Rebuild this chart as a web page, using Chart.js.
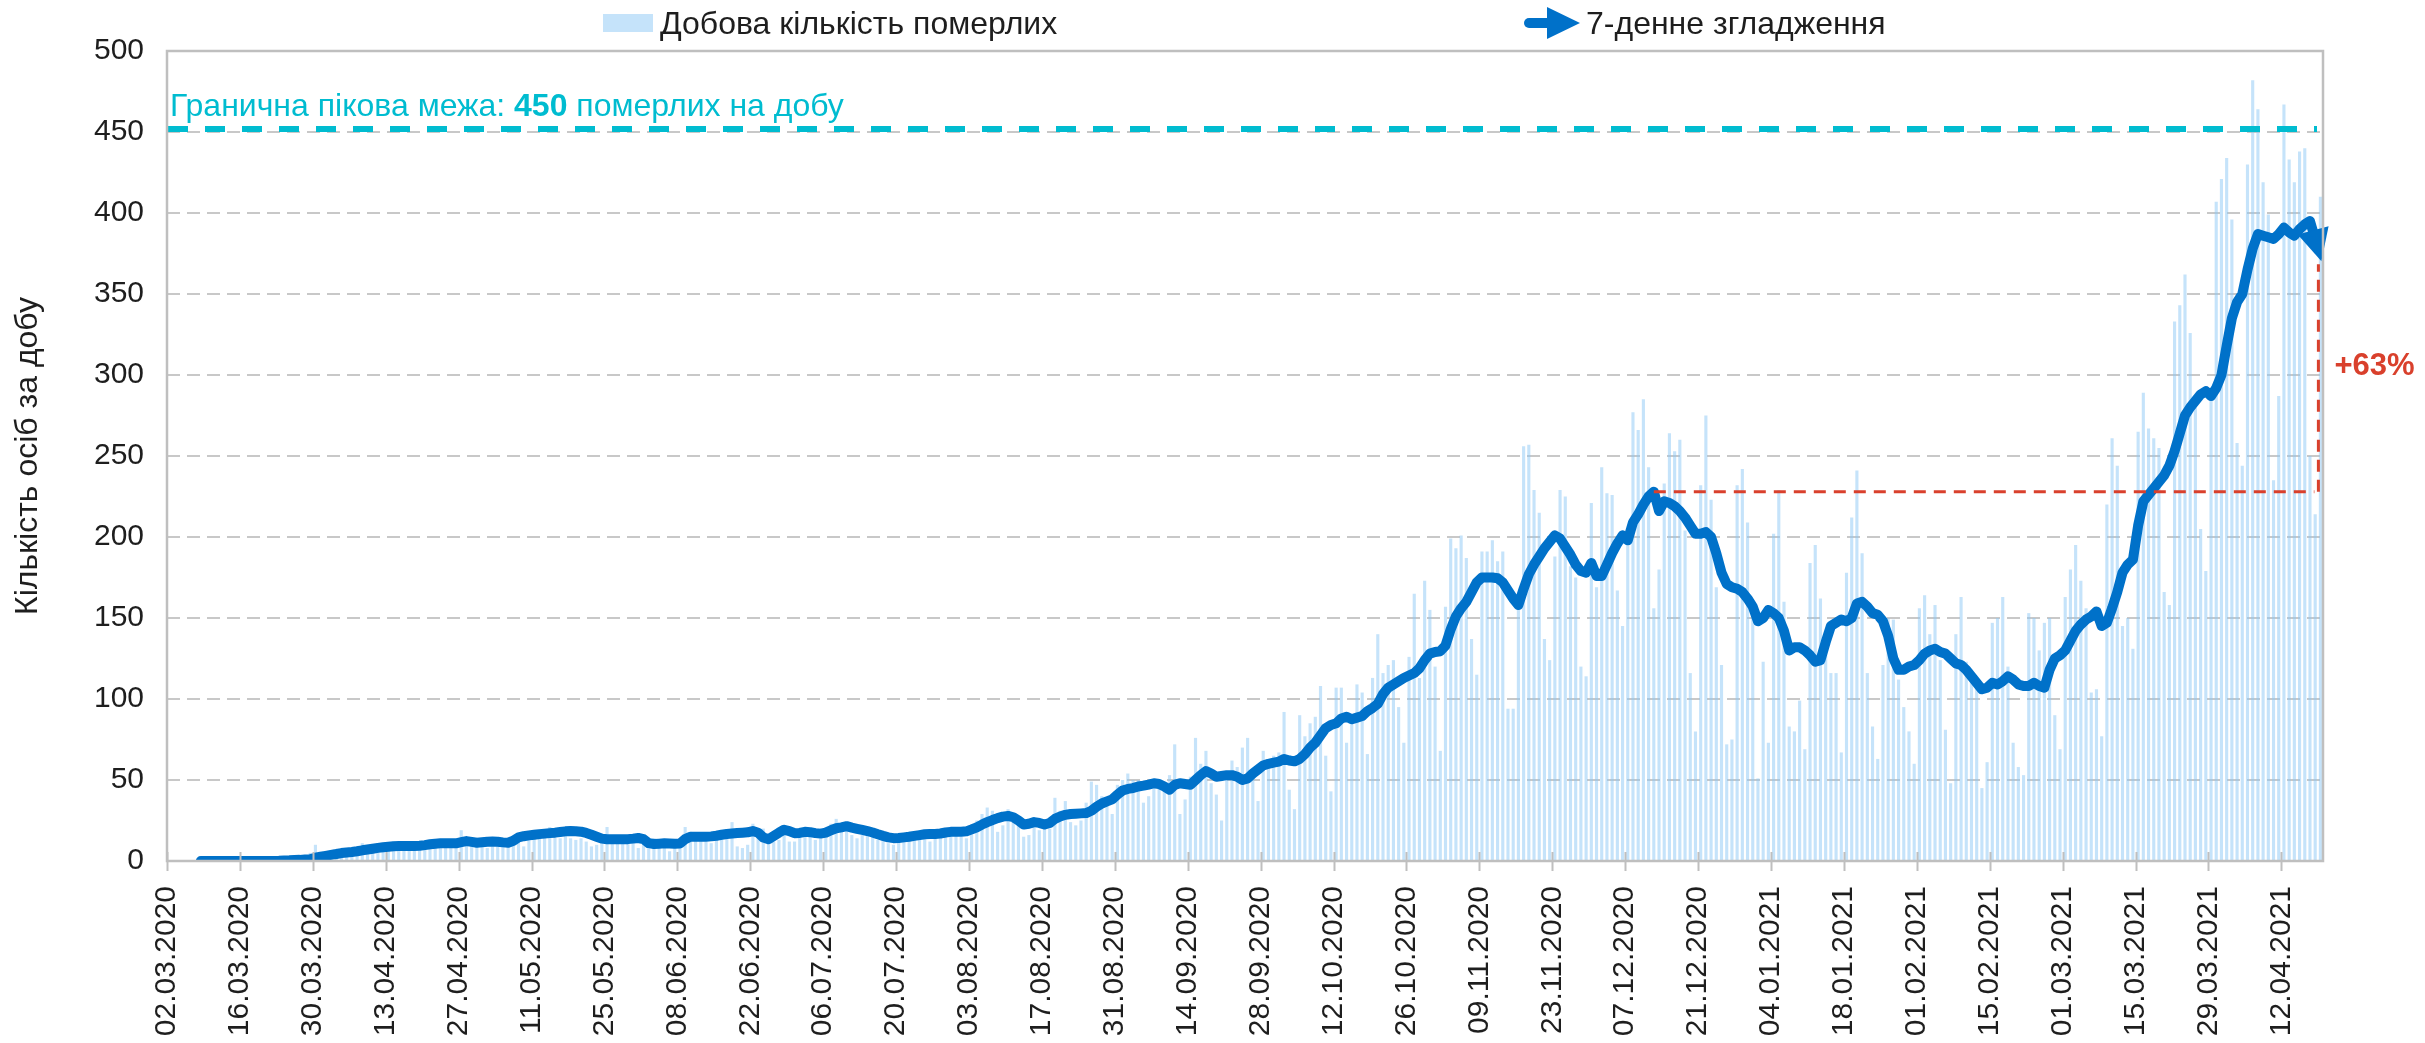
<!DOCTYPE html>
<html lang="uk">
<head>
<meta charset="utf-8">
<title>Добова кількість померлих</title>
<script src="https://cdn.jsdelivr.net/npm/chart.js@4.4.1/dist/chart.umd.min.js"></script>
<style>
html,body{margin:0;padding:0;background:#fff;overflow:hidden}
#wrap{position:relative;width:2425px;height:1043px}
canvas{display:block}
</style>
</head>
<body>
<div id="wrap"><canvas id="chart" width="2425" height="1043"></canvas></div>
<script>
// ---------------- DATA ----------------
const SERIES_BAR_LABEL = 'Добова кількість померлих';
const SERIES_LINE_LABEL = '7-денне згладження';
const Y_TITLE = 'Кількість осіб за добу';

// daily deaths, one value per day starting 02.03.2020 (index 0)
const DAILY_DEATHS = [
  0,0,0,0,0,0,0,
  0,0,0,0,1,0,0,
  0,1,0,0,0,1,0,
  1,2,3,1,2,3,5,
  10,3,5,4,6,5,5,
  7,5,11,8,10,7,9,
  9,12,11,9,8,7,9,
  11,13,12,13,9,8,10,
  19,14,10,12,11,8,9,
  10,13,11,13,15,9,17,
  17,18,19,21,20,14,16,
  14,13,14,12,9,10,11,
  21,14,13,12,15,11,8,
  12,11,14,13,11,6,8,
  12,21,18,16,14,12,11,
  16,17,19,24,9,8,10,
  23,19,20,15,12,13,21,
  12,12,20,19,18,13,14,
  20,23,26,22,19,16,14,
  16,18,15,13,14,11,10,
  15,16,18,17,17,14,12,
  16,18,19,21,19,15,14,
  20,25,29,33,31,18,22,
  32,28,24,15,16,25,19,
  20,20,39,31,37,24,22,
  25,36,49,47,40,35,29,
  47,50,54,50,50,36,40,
  50,46,48,53,72,29,38,
  52,76,60,68,48,41,25,
  55,62,58,70,76,55,37,
  68,62,65,67,92,44,32,
  90,77,85,89,108,65,43,
  107,107,73,90,109,104,66,
  113,140,116,121,124,95,73,
  126,165,113,173,155,120,68,
  157,199,193,201,187,137,115,
  191,191,198,185,191,94,94,
  157,256,257,229,215,137,124,
  188,229,225,182,175,120,114,
  221,169,243,227,226,167,145,
  200,277,266,285,243,156,180,
  233,264,253,260,204,116,80,
  232,275,223,169,121,72,75,
  232,242,209,150,51,123,73,
  202,229,160,83,80,99,69,
  184,195,162,140,116,116,67,
  178,212,241,190,116,83,63,
  121,150,149,112,95,80,60,
  156,164,140,158,124,81,48,
  140,163,123,118,109,45,61,
  147,150,163,120,73,58,53,
  153,150,130,147,150,90,69,
  163,180,195,173,156,104,106,
  77,220,261,244,145,150,131,
  265,289,267,261,255,166,158,
  333,343,362,326,280,205,179,
  290,407,421,434,396,258,244,
  430,482,464,419,399,235,287,
  467,433,419,438,440,250,214,
  410
];

// 7-day smoothing, first value belongs to day index SMOOTH_START
const SMOOTH_START = 6;
const SMOOTH_7D = [
  0,0,0,0,0,0,0,0,0,0,0,0,0,0,0,
  0.1,0.3,0.4,0.6,0.7,0.9,1.0,
  2,2.6,3.2,3.8,4.3,4.9,5.3,
  5.6,6,6.6,7.1,7.6,8.1,8.5,
  8.8,9.1,9.2,9.3,9.2,9.3,9.4,
  9.8,10.3,10.7,10.9,10.9,11,10.9,
  11.6,12.3,11.8,11.3,11.6,11.9,12,
  11.9,11.5,11.3,12.5,14.6,15.3,15.8,
  16.2,16.6,16.9,17.2,17.5,17.9,18.3,
  18.5,18.4,18.1,17.3,16.2,15,13.8,
  13.4,13.4,13.4,13.4,13.5,13.8,14.2,
  13.5,11,10.5,10.7,10.9,10.8,10.6,
  10.8,13.5,15,15,15,15,15.2,
  15.6,16.2,16.7,17,17.3,17.5,17.7,
  18.5,17.5,14.5,13.5,15.5,17.5,19.3,
  18.5,17.2,17.3,18,17.8,17.2,16.9,
  17.5,19,20.2,20.8,21.5,20.6,19.9,
  19.2,18.5,17.6,16.5,15.5,14.6,14.1,
  14.2,14.6,15,15.5,16,16.5,16.7,
  16.7,17,17.6,18,18.1,18.1,18.3,
  19.5,20.8,22.5,24,25.3,26.5,27.4,
  27.8,27,25,22.5,23,24,23.5,
  22.5,23.5,26,27.5,28.5,29,29.2,
  29.4,29.6,31,33.5,35.5,36.8,38,
  41,43.5,44.5,45,46,46.5,47.2,
  48,47.5,46,44,47,48,47.5,
  47,50,53,55.5,54,52,52.5,
  53,53,52,50,51,54,56.5,
  59,60,60.7,61.3,63,62,61.5,
  63,66,70,73,77.5,82,84,
  85,88,89,87.5,88.5,89.5,92.5,
  94.5,97,103,107,109,111,113,
  114.5,116,119,124,128,129,129.5,
  133,143,151,156,160,166,172,
  175,175,175,174.5,172,167,162,
  158,168,177,183,188,193,197,
  201,199,194,189,183,179,178,
  184,176,176,183,190,196,201,
  198,209,214,220,225,228,216,
  222,221,219,216,212,207,202,
  202,203,200,190,178,171,169,
  168,166,162,157,148,150,155,
  153,150,142,130,132,132,130,
  127,123,124,135,145,147,149,
  148,150,159,160,157,153,152,
  148,139,125,118,118,120,121,
  124,128,130,131,129,128,125,
  122,121,118,114,110,106,107,
  110,109,111,114,112,109,108,
  108,110,108,107,118,125,127,
  130,136,142,146,149,151,154,
  145,147,156,166,178,183,186,
  207,222,226,230,234,238,244,
  253,264,275,280,284,288,290,
  287,292,300,318,335,345,350,
  365,378,387,386,385,384,387,
  391,388,386,390,393,395,384,
  372
];

const TICK_STEP_DAYS = 14;
const TICK_LABELS = [
  '02.03.2020','16.03.2020','30.03.2020','13.04.2020','27.04.2020','11.05.2020',
  '25.05.2020','08.06.2020','22.06.2020','06.07.2020','20.07.2020','03.08.2020',
  '17.08.2020','31.08.2020','14.09.2020','28.09.2020','12.10.2020','26.10.2020',
  '09.11.2020','23.11.2020','07.12.2020','21.12.2020','04.01.2021','18.01.2021',
  '01.02.2021','15.02.2021','01.03.2021','15.03.2021','29.03.2021','12.04.2021'
];
const AXIS_DAYS = 414;            // 02.03.2020 .. 20.04.2021
const LIMIT_VALUE = 450;
const LIMIT_TEXT = ['Гранична пікова межа: ', String(LIMIT_VALUE), ' померлих на добу'];
const COMPARE_DAY = 285;          // 12.12.2020 – peak of the autumn wave
const Y_MAX = 500, Y_STEP = 50;

// ---------------- STYLE ----------------
const FONT = "'Liberation Sans', Arial, Helvetica, sans-serif";
const C_TEXT = '#1e1e1e';
const C_BAR = 'rgba(140,200,245,0.5)';
const C_BAR_LEGEND = '#c5e3fa';
const C_LINE = '#0071c9';
const C_LIMIT = '#00bcd0';
const C_RED = '#d9402c';
const C_FRAME = '#bfbfbf';
const C_GRID = '#c8c8c8';

const tickDays = TICK_LABELS.map((_, i) => i * TICK_STEP_DAYS);
const barPoints = DAILY_DEATHS.map((v, i) => ({x: i + 0.5, y: v}));
const linePoints = SMOOTH_7D.map((v, i) => ({x: SMOOTH_START + i + 0.5, y: v}));

const decor = {
  id: 'decor',
  afterUpdate(chart) { chart.$tip = null; },
  beforeDatasetsDraw(chart) {
    if (chart.$tip) return;
    const pts = chart.getDatasetMeta(0).data;
    const last = pts[pts.length - 1], prev = pts[pts.length - 2];
    const dx = last.x - prev.x, dy = last.y - prev.y, len = Math.hypot(dx, dy);
    chart.$tip = {x: last.x + 1, y: last.y + 3, ux: dx / len, uy: dy / len};
    const back = Math.min(len, 14);
    last.x = chart.$tip.x - chart.$tip.ux * back;
    last.y = chart.$tip.y - chart.$tip.uy * back;
  },
  afterDatasetsDraw(chart) {
    const {ctx, chartArea: a, scales: {x, y}} = chart;
    const tip = chart.$tip;

    // limit line
    ctx.save();
    const yl = y.getPixelForValue(LIMIT_VALUE) - 3;
    ctx.strokeStyle = C_LIMIT; ctx.lineWidth = 6; ctx.setLineDash([20, 17]);
    ctx.beginPath(); ctx.moveTo(a.left + 1, yl); ctx.lineTo(a.right - 6, yl); ctx.stroke();
    ctx.setLineDash([]);
    ctx.fillStyle = C_LIMIT; ctx.textBaseline = 'alphabetic'; ctx.textAlign = 'left';
    let tx = a.left + 3;
    const ty = yl - 13;
    ctx.font = '32px ' + FONT; ctx.fillText(LIMIT_TEXT[0], tx, ty); tx += ctx.measureText(LIMIT_TEXT[0]).width;
    ctx.font = 'bold 32px ' + FONT; ctx.fillText(LIMIT_TEXT[1], tx, ty); tx += ctx.measureText(LIMIT_TEXT[1]).width;
    ctx.font = '32px ' + FONT; ctx.fillText(LIMIT_TEXT[2], tx, ty);
    ctx.restore();

    // comparison with the December peak
    const refV = SMOOTH_7D[COMPARE_DAY - SMOOTH_START];
    const lastV = SMOOTH_7D[SMOOTH_7D.length - 1];
    const xr = x.getPixelForValue(COMPARE_DAY + 0.5);
    const yr = y.getPixelForValue(refV);
    const ye = y.getPixelForValue(lastV);
    const xe = tip.x - 3;
    ctx.save();
    ctx.strokeStyle = C_RED; ctx.lineWidth = 3; ctx.setLineDash([12, 8]);
    ctx.beginPath(); ctx.moveTo(xr, yr); ctx.lineTo(xe - 4, yr); ctx.stroke();
    ctx.beginPath(); ctx.moveTo(xe, yr); ctx.lineTo(xe, ye + 6); ctx.stroke();
    ctx.setLineDash([]);
    ctx.fillStyle = C_RED; ctx.font = 'bold 31px ' + FONT;
    ctx.textAlign = 'left'; ctx.textBaseline = 'alphabetic';
    ctx.fillText('+' + Math.round((lastV / refV - 1) * 100) + '%', xe + 16, (yr + ye) / 2);
    ctx.restore();

    // arrow head at the end of the smoothed line
    ctx.save();
    const L = 32, W = 16;
    const bx = tip.x - tip.ux * L, by = tip.y - tip.uy * L;
    ctx.fillStyle = C_LINE;
    ctx.beginPath();
    ctx.moveTo(tip.x, tip.y);
    ctx.lineTo(bx - tip.uy * W, by + tip.ux * W);
    ctx.lineTo(bx + tip.uy * W, by - tip.ux * W);
    ctx.closePath(); ctx.fill();
    ctx.restore();

    // frame
    ctx.save();
    ctx.strokeStyle = C_FRAME; ctx.lineWidth = 2.5;
    ctx.strokeRect(a.left, a.top, a.right - a.left, a.bottom - a.top);
    // cross tick marks on the date axis
    ctx.lineWidth = 2;
    tickDays.forEach(d => {
      const px = Math.round(x.getPixelForValue(d)) + 0.5;
      ctx.beginPath(); ctx.moveTo(px, a.bottom - 9); ctx.lineTo(px, a.bottom + 10); ctx.stroke();
    });
    ctx.restore();
  },
  afterDraw(chart) {
    const ctx = chart.ctx;
    ctx.save();
    ctx.fillStyle = C_BAR_LEGEND;
    ctx.fillRect(603, 14, 50, 18);
    ctx.fillStyle = C_TEXT; ctx.font = '32px ' + FONT;
    ctx.textAlign = 'left'; ctx.textBaseline = 'alphabetic';
    ctx.fillText(SERIES_BAR_LABEL, 660, 34);
    // line icon with arrow
    ctx.strokeStyle = C_LINE; ctx.lineWidth = 10; ctx.lineCap = 'round';
    ctx.beginPath(); ctx.moveTo(1529, 23); ctx.lineTo(1552, 23); ctx.stroke();
    ctx.fillStyle = C_LINE;
    ctx.beginPath(); ctx.moveTo(1547, 7); ctx.lineTo(1580, 23); ctx.lineTo(1547, 39); ctx.closePath(); ctx.fill();
    ctx.fillStyle = C_TEXT;
    ctx.fillText(SERIES_LINE_LABEL, 1586, 34);
    ctx.restore();
  }
};

Chart.defaults.font.family = FONT;
Chart.defaults.color = C_TEXT;

new Chart(document.getElementById('chart'), {
  type: 'bar',
  data: {
    datasets: [
      {
        type: 'line', label: SERIES_LINE_LABEL, data: linePoints, order: 0,
        borderColor: C_LINE, borderWidth: 10, pointRadius: 0, tension: 0,
        borderJoinStyle: 'round', borderCapStyle: 'round', fill: false
      },
      {
        type: 'bar', label: SERIES_BAR_LABEL, data: barPoints, order: 1,
        backgroundColor: C_BAR, borderWidth: 0,
        barPercentage: 0.6, categoryPercentage: 1.0
      }
    ]
  },
  options: {
    responsive: false,
    animation: false,
    devicePixelRatio: 1,
    events: [],
    layout: {padding: {left: 9, top: 51, right: 102, bottom: 0}},
    plugins: {legend: {display: false}, tooltip: {enabled: false}},
    scales: {
      x: {
        type: 'linear', min: 0, max: AXIS_DAYS, offset: false,
        grid: {display: false, drawTicks: false},
        border: {display: false},
        afterBuildTicks: s => { s.ticks = tickDays.map(v => ({value: v})); },
        afterFit: s => { s.height = 182; },
        ticks: {
          autoSkip: false, minRotation: 90, maxRotation: 90, padding: 25,
          font: {size: 30}, color: C_TEXT,
          callback: v => TICK_LABELS[tickDays.indexOf(v)] ?? ''
        }
      },
      y: {
        min: 0, max: Y_MAX,
        grid: {
          drawTicks: false, lineWidth: 2,
          color: c => (c.tick && (c.tick.value === 0 || c.tick.value === Y_MAX)) ? 'rgba(0,0,0,0)' : C_GRID
        },
        border: {display: false, dash: [13, 7]},
        afterFit: s => { s.width = 158; },
        ticks: {stepSize: Y_STEP, padding: 23, font: {size: 30}, color: C_TEXT},
        title: {display: true, text: Y_TITLE, font: {size: 32}, color: C_TEXT, padding: 0}
      }
    }
  },
  plugins: [decor]
});
</script>
</body>
</html>
